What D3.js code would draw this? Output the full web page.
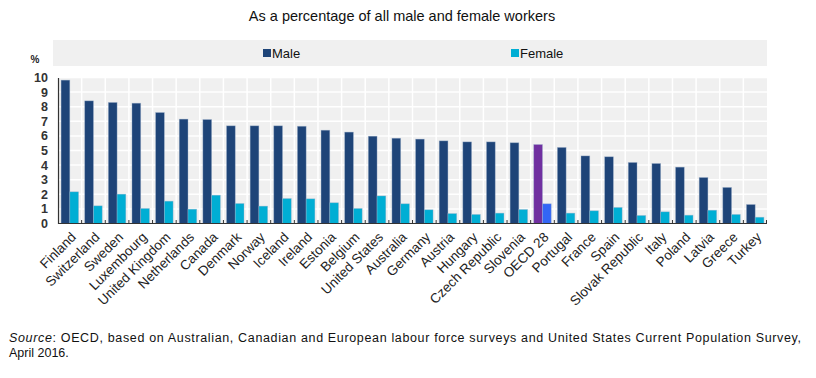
<!DOCTYPE html>
<html lang="en">
<head>
  <meta charset="utf-8" />
  <title>Male and female workers - grouped bars</title>
  <style>
    body {
      margin: 0;
      background: #ffffff;
      font-family: 'Liberation Sans', Arial, sans-serif;
    }
    svg { display: block; }
    .grid line { stroke: #ffffff; stroke-width: 1.5px; }
    .axis text { fill: #222; font-size: 12.5px; }
    .xlabel { fill: #222; font-size: 13.5px; }
  </style>
</head>
<body>
<div id="chart"></div>

<script src="https://d3js.org/d3.v7.min.js"></script>
<script>
// -----------------------------------------------------
// 1) Data
// -----------------------------------------------------
const categories = [
  "Finland", "Switzerland", "Sweden", "Luxembourg", "United Kingdom",
  "Netherlands", "Canada", "Denmark", "Norway", "Iceland", "Ireland",
  "Estonia", "Belgium", "United States", "Australia", "Germany", "Austria",
  "Hungary", "Czech Republic", "Slovenia", "OECD 28", "Portugal", "France",
  "Spain", "Slovak Republic", "Italy", "Poland", "Latvia", "Greece", "Turkey"
];
const maleValues = [
  9.82, 8.40, 8.29, 8.24, 7.60, 7.15, 7.12, 6.69, 6.69, 6.69, 6.66,
  6.39, 6.26, 5.98, 5.84, 5.78, 5.66, 5.59, 5.59, 5.53, 5.41, 5.21, 4.63,
  4.57, 4.18, 4.11, 3.86, 3.15, 2.47, 1.30
];
const femaleValues = [
  2.17, 1.21, 2.01, 1.03, 1.53, 0.98, 1.94, 1.37, 1.19, 1.71, 1.69,
  1.42, 1.03, 1.89, 1.35, 0.94, 0.68, 0.62, 0.71, 0.96, 1.35, 0.71, 0.87,
  1.10, 0.55, 0.80, 0.57, 0.91, 0.62, 0.43
];
const seriesNames = ["Male", "Female"];
const yTicks = [0, 1, 2, 3, 4, 5, 6, 7, 8, 9, 10];
const highlight = "OECD 28";

// -----------------------------------------------------
// 2) Setup
// -----------------------------------------------------
const W = 816, H = 378;
const plot = { left: 58, right: 767, top: 77.5, bottom: 223.5 };
const colors = { Male: "#1e4478", Female: "#00aed4" };
const hiColors = { Male: "#7030a0", Female: "#3366f5" };

const svg = d3.select("#chart").append("svg")
    .attr("width", W)
    .attr("height", H);

const x = d3.scaleBand()
    .domain(categories)
    .range([plot.left, plot.right])
    .paddingInner(0.26)
    .paddingOuter(0.13);

const xs = d3.scaleBand()
    .domain(seriesNames)
    .range([0, x.bandwidth()]);

const y = d3.scaleLinear()
    .domain([0, 10])
    .range([plot.bottom, plot.top]);

const step = x.step();

// title
svg.append("text")
    .attr("x", 402)
    .attr("y", 21)
    .attr("text-anchor", "middle")
    .style("font-size", "14.5px")
    .style("fill", "#111")
    .text("As a percentage of all male and female workers");

// legend box
svg.append("rect")
    .attr("x", 53).attr("y", 40)
    .attr("width", plot.right - 53).attr("height", 26)
    .attr("fill", "#f0f0f0");

const legendX = { Male: 263, Female: 511 };
seriesNames.forEach(s => {
  svg.append("rect")
    .attr("x", legendX[s]).attr("y", 49)
    .attr("width", 8).attr("height", 8)
    .attr("fill", colors[s]);
  svg.append("text")
    .attr("x", legendX[s] + 9).attr("y", 57.5)
    .style("font-size", "13px")
    .style("fill", "#111")
    .text(s);
});

// plot background
svg.append("rect")
    .attr("x", plot.left).attr("y", plot.top)
    .attr("width", plot.right - plot.left).attr("height", plot.bottom - plot.top)
    .attr("fill", "#f0f0f0");

// grid lines
const grid = svg.append("g").attr("class", "grid");
grid.selectAll("line.h")
  .data(yTicks.slice(1))
  .join("line")
    .attr("class", "h")
    .attr("x1", plot.left).attr("x2", plot.right)
    .attr("y1", d => y(d)).attr("y2", d => y(d));
grid.selectAll("line.v")
  .data(categories.slice(1))
  .join("line")
    .attr("class", "v")
    .attr("x1", d => x(d) - step * 0.13).attr("x2", d => x(d) - step * 0.13)
    .attr("y1", plot.top).attr("y2", plot.bottom);

// bars
const rows = categories.map((c, i) => ({ c, Male: maleValues[i], Female: femaleValues[i] }));

const groups = svg.selectAll("g.cat")
  .data(rows)
  .join("g")
    .attr("class", "cat")
    .attr("transform", d => `translate(${x(d.c)},0)`);

groups.selectAll("rect")
  .data(d => seriesNames.map(s => ({ s, v: d[s], hi: d.c === highlight })))
  .join("rect")
    .attr("x", d => xs(d.s))
    .attr("y", d => y(d.v))
    .attr("width", xs.bandwidth())
    .attr("height", d => y(0) - y(d.v))
    .attr("fill", d => d.hi ? hiColors[d.s] : colors[d.s])
    .attr("stroke", "#9fb3cc")
    .attr("stroke-opacity", 0.55)
    .attr("stroke-width", 0.7);

// y axis
const yAxis = svg.append("g")
    .attr("class", "axis")
    .attr("transform", `translate(${plot.left},0)`)
    .call(d3.axisLeft(y).tickValues(yTicks).tickSize(0).tickPadding(10));
yAxis.select(".domain").attr("stroke", "#333").attr("stroke-width", 1.2);
yAxis.selectAll("text").style("font-weight", "bold").style("fill", "#333");

svg.append("text")
    .attr("x", 35).attr("y", 63)
    .attr("text-anchor", "middle")
    .style("font-size", "10px")
    .style("font-weight", "bold")
    .style("fill", "#222")
    .text("%");

// x axis line with inner ticks at band boundaries
svg.append("line")
    .attr("x1", plot.left).attr("x2", plot.right)
    .attr("y1", plot.bottom).attr("y2", plot.bottom)
    .attr("stroke", "#333").attr("stroke-width", 1.2);
svg.selectAll("line.xtick")
  .data(categories.slice(1).concat(["__end"]))
  .join("line")
    .attr("class", "xtick")
    .attr("x1", d => d === "__end" ? plot.right - 0.5 : x(d) - step * 0.13)
    .attr("x2", d => d === "__end" ? plot.right - 0.5 : x(d) - step * 0.13)
    .attr("y1", plot.bottom - 3.5).attr("y2", plot.bottom)
    .attr("stroke", "#333").attr("stroke-width", 1);

// rotated category labels
svg.selectAll("text.xlabel")
  .data(categories)
  .join("text")
    .attr("class", "xlabel")
    .attr("text-anchor", "end")
    .attr("transform", d => `translate(${x(d) + x.bandwidth() / 2 + 7},${238}) rotate(-45)`)
    .text(d => d);

// source note
const note = svg.append("text")
    .attr("x", 9).attr("y", 342)
    .attr("textLength", 792)
    .attr("lengthAdjust", "spacing")
    .style("font-size", "12.5px")
    .style("fill", "#111");
note.append("tspan").style("font-style", "italic").text("Source");
note.append("tspan").text(": OECD, based on Australian, Canadian and European labour force surveys and United States Current Population Survey,");

svg.append("text")
    .attr("x", 9).attr("y", 357)
    .style("font-size", "12.5px")
    .style("fill", "#111")
    .text("April 2016.");
</script>

</body>
</html>
